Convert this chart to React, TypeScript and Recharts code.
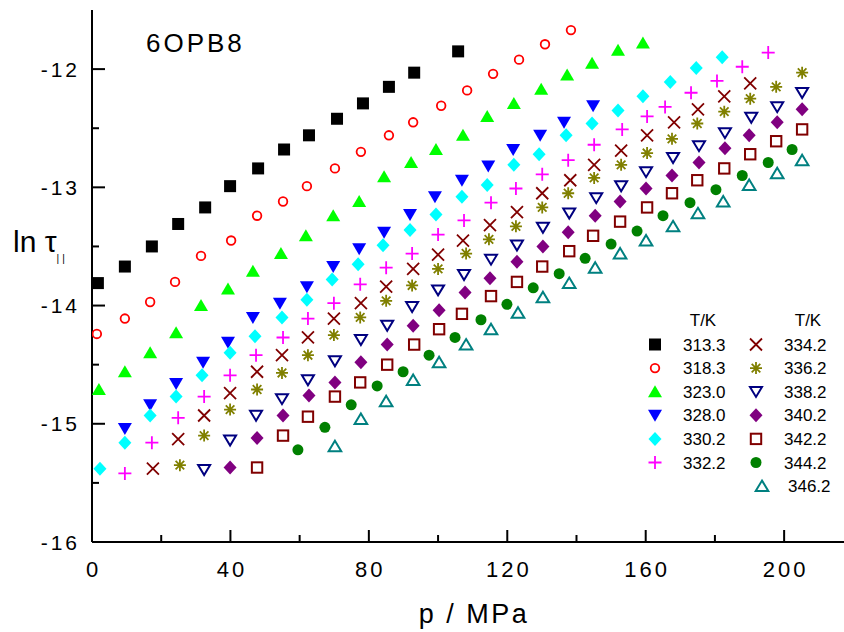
import React from 'react'
import { ScatterChart, Scatter, XAxis, YAxis } from 'recharts'

const FONT = '"Liberation Sans", Arial, Helvetica, sans-serif'

// [p / MPa, ln tau_parallel] for each temperature
const t313_3: [number, number][] = [
  [1.7, -13.81], [9.5, -13.67], [17.3, -13.5], [24.9, -13.31], [32.7, -13.17], [39.9, -12.99],
  [48.0, -12.84], [55.5, -12.68], [62.7, -12.56], [70.8, -12.42], [78.3, -12.29], [85.8, -12.15],
  [93.1, -12.03], [105.8, -11.85],
]
const t318_3: [number, number][] = [
  [1.4, -14.24], [9.5, -14.11], [16.8, -13.97], [24.0, -13.8], [31.5, -13.58], [40.2, -13.45],
  [47.7, -13.24], [55.2, -13.12], [62.1, -12.99], [70.2, -12.84], [77.7, -12.7], [85.8, -12.56],
  [92.8, -12.45], [100.9, -12.31], [108.4, -12.18], [115.9, -12.04], [123.4, -11.92], [130.9, -11.79],
  [138.4, -11.67],
]
const t323_0: [number, number][] = [
  [2.0, -14.71], [9.5, -14.56], [16.8, -14.4], [24.3, -14.23], [31.5, -14.0], [39.3, -13.86],
  [46.5, -13.71], [54.6, -13.56], [61.8, -13.41], [69.7, -13.24], [77.2, -13.12], [84.4, -12.91],
  [92.2, -12.79], [99.4, -12.68], [107.2, -12.56], [114.2, -12.4], [121.9, -12.29], [129.8, -12.17],
  [137.3, -12.05], [144.5, -11.95], [152.0, -11.84], [159.2, -11.78],
]
const t328_0: [number, number][] = [
  [9.5, -15.04], [16.8, -14.84], [24.3, -14.66], [32.1, -14.48], [39.3, -14.31], [46.5, -14.1],
  [54.3, -13.98], [62.1, -13.84], [69.7, -13.67], [77.2, -13.52], [84.4, -13.38], [91.9, -13.23],
  [99.1, -13.08], [106.9, -12.94], [114.5, -12.82], [121.7, -12.68], [129.5, -12.56], [136.4, -12.45],
  [144.8, -12.31],
]
const t330_2: [number, number][] = [
  [2.3, -15.38], [9.5, -15.16], [16.8, -14.93], [24.3, -14.77], [31.8, -14.59], [39.9, -14.4],
  [47.1, -14.26], [54.9, -14.1], [62.1, -13.95], [69.4, -13.78], [76.9, -13.65], [84.1, -13.49],
  [91.9, -13.36], [99.4, -13.23], [106.9, -13.08], [114.2, -12.98], [121.9, -12.81], [129.2, -12.72],
  [137.0, -12.56], [144.5, -12.46], [152.0, -12.35], [159.2, -12.23], [167.1, -12.11], [174.6, -11.99],
  [182.1, -11.9],
]
const t332_2: [number, number][] = [
  [9.5, -15.42], [17.3, -15.16], [24.9, -14.95], [32.4, -14.77], [39.9, -14.59], [47.4, -14.42],
  [55.2, -14.27], [62.4, -14.11], [69.9, -13.98], [77.5, -13.82], [85.0, -13.68], [92.5, -13.56],
  [100.0, -13.4], [107.5, -13.28], [115.3, -13.13], [122.5, -13.01], [130.1, -12.89], [137.6, -12.77],
  [145.1, -12.64], [153.2, -12.51], [160.4, -12.4], [165.6, -12.32], [173.1, -12.2], [180.6, -12.1],
  [187.9, -11.98], [195.4, -11.86],
]
const t334_2: [number, number][] = [
  [17.6, -15.38], [24.9, -15.13], [32.4, -14.93], [39.9, -14.74], [47.7, -14.56], [54.9, -14.42],
  [62.4, -14.27], [69.9, -14.11], [77.7, -13.98], [85.0, -13.84], [92.8, -13.69], [100.0, -13.57],
  [107.2, -13.45], [115.0, -13.32], [122.8, -13.21], [130.1, -13.05], [138.2, -12.94], [145.1, -12.81],
  [152.9, -12.69], [160.4, -12.56], [168.2, -12.45], [175.1, -12.34], [182.7, -12.23], [190.2, -12.12],
]
const t336_2: [number, number][] = [
  [25.4, -15.35], [32.4, -15.1], [39.9, -14.88], [47.7, -14.71], [54.9, -14.57], [62.4, -14.42],
  [69.9, -14.25], [77.5, -14.1], [85.0, -13.96], [92.5, -13.83], [100.0, -13.69], [108.1, -13.56],
  [114.7, -13.44], [122.5, -13.33], [130.1, -13.17], [137.6, -13.05], [145.1, -12.92], [152.9, -12.81],
  [160.4, -12.71], [167.6, -12.59], [174.9, -12.46], [182.7, -12.36], [190.2, -12.25], [197.7, -12.15],
  [205.2, -12.03],
]
const t338_2: [number, number][] = [
  [32.4, -15.39], [39.9, -15.14], [47.4, -14.93], [54.9, -14.79], [62.4, -14.63], [70.2, -14.47],
  [77.7, -14.29], [85.3, -14.17], [92.5, -14.01], [100.0, -13.87], [107.5, -13.74], [115.3, -13.61],
  [122.8, -13.49], [130.3, -13.34], [137.9, -13.22], [145.7, -13.09], [152.9, -12.99], [160.1, -12.87],
  [167.9, -12.75], [175.4, -12.65], [182.9, -12.54], [190.5, -12.41], [198.0, -12.32], [205.2, -12.2],
]
const t340_2: [number, number][] = [
  [39.9, -15.37], [47.7, -15.12], [55.2, -14.93], [62.7, -14.76], [70.2, -14.65], [77.7, -14.48],
  [85.3, -14.33], [92.8, -14.17], [100.3, -14.04], [107.8, -13.89], [115.0, -13.77], [122.8, -13.63],
  [130.3, -13.5], [137.6, -13.38], [145.4, -13.24], [152.6, -13.12], [160.1, -13.01], [167.6, -12.9],
  [175.4, -12.79], [182.9, -12.67], [189.9, -12.56], [198.0, -12.45], [205.2, -12.34],
]
const t342_2: [number, number][] = [
  [47.7, -15.37], [55.2, -15.1], [62.4, -14.94], [70.2, -14.77], [77.5, -14.65], [85.3, -14.5],
  [93.1, -14.33], [100.3, -14.2], [106.9, -14.07], [115.3, -13.92], [122.8, -13.8], [130.1, -13.67],
  [137.9, -13.54], [144.8, -13.41], [152.6, -13.29], [160.4, -13.17], [167.6, -13.05], [174.9, -12.94],
  [182.7, -12.84], [190.2, -12.72], [197.7, -12.61], [205.2, -12.51],
]
const t344_2: [number, number][] = [
  [59.5, -15.22], [67.3, -15.03], [74.9, -14.84], [82.4, -14.68], [89.9, -14.56], [97.4, -14.42],
  [104.9, -14.27], [112.4, -14.12], [119.9, -13.99], [127.5, -13.85], [135.0, -13.73], [142.5, -13.6],
  [150.0, -13.48], [157.5, -13.37], [165.0, -13.24], [172.8, -13.13], [180.3, -13.02], [187.9, -12.9],
  [195.4, -12.79], [202.3, -12.68],
]
const t346_2: [number, number][] = [
  [70.2, -15.19], [77.7, -14.96], [85.0, -14.81], [92.8, -14.63], [100.3, -14.48], [108.1, -14.33],
  [115.3, -14.2], [123.1, -14.06], [130.3, -13.93], [137.9, -13.81], [145.4, -13.68], [152.6, -13.56],
  [160.1, -13.45], [167.9, -13.33], [175.1, -13.22], [182.4, -13.12], [189.9, -12.98], [198.0, -12.88],
  [205.2, -12.77],
]

const temps = ['313.3', '318.3', '323.0', '328.0', '330.2', '332.2', '334.2', '336.2', '338.2', '340.2', '342.2', '344.2', '346.2']
const values = [t313_3, t318_3, t323_0, t328_0, t330_2, t332_2, t334_2, t336_2, t338_2, t340_2, t342_2, t344_2, t346_2]
const colors = ['#000000', '#ff0000', '#00ff00', '#0000ff', '#00ffff', '#ff00ff', '#800000', '#808000', '#000080', '#800080', '#800000', '#008000', '#008080']
const kinds = ['square', 'circle', 'triUp', 'triDown', 'diamond', 'plus', 'cross', 'star', 'triDownOpen', 'diamond', 'squareOpen', 'dot', 'triUpOpen']

const xTicks = [0, 20, 40, 60, 80, 100, 120, 140, 160, 180, 200]
const yTicks = [-16, -15.5, -15, -14.5, -14, -13.5, -13, -12.5, -12]

const series = temps.map((t, i) => ({
  name: t,
  color: colors[i],
  kind: kinds[i],
  data: values[i].map(([p, v]) => ({ p, v })),
}))

function Marker({ kind, color, cx, cy }: { kind: string; color: string; cx: number; cy: number }) {
  switch (kind) {
    case 'square':
      return <rect x={cx - 6} y={cy - 6} width={12} height={12} fill={color} />
    case 'circle':
      return <circle cx={cx} cy={cy} r={4.3} fill="none" stroke={color} strokeWidth={1.8} />
    case 'triUp':
      return <polygon points={`${cx},${cy - 6.5} ${cx + 7},${cy + 5.5} ${cx - 7},${cy + 5.5}`} fill={color} />
    case 'triDown':
      return <polygon points={`${cx - 7},${cy - 5.5} ${cx + 7},${cy - 5.5} ${cx},${cy + 6.5}`} fill={color} />
    case 'diamond':
      return <polygon points={`${cx},${cy - 7} ${cx + 6.5},${cy} ${cx},${cy + 7} ${cx - 6.5},${cy}`} fill={color} />
    case 'plus':
      return <path d={`M${cx - 6.5},${cy}H${cx + 6.5}M${cx},${cy - 6.5}V${cy + 6.5}`} stroke={color} strokeWidth={1.8} fill="none" />
    case 'cross':
      return <path d={`M${cx - 6},${cy - 6}L${cx + 6},${cy + 6}M${cx - 6},${cy + 6}L${cx + 6},${cy - 6}`} stroke={color} strokeWidth={1.8} fill="none" />
    case 'star':
      return (
        <path
          d={`M${cx - 6},${cy}H${cx + 6}M${cx},${cy - 6}V${cy + 6}M${cx - 4.3},${cy - 4.3}L${cx + 4.3},${cy + 4.3}M${cx - 4.3},${cy + 4.3}L${cx + 4.3},${cy - 4.3}`}
          stroke={color}
          strokeWidth={1.8}
          fill="none"
        />
      )
    case 'triDownOpen':
      return <polygon points={`${cx - 6},${cy - 4.8} ${cx + 6},${cy - 4.8} ${cx},${cy + 5.2}`} fill="none" stroke={color} strokeWidth={2} />
    case 'squareOpen':
      return <rect x={cx - 5.2} y={cy - 5.2} width={10.4} height={10.4} fill="none" stroke={color} strokeWidth={2} />
    case 'dot':
      return <ellipse cx={cx} cy={cy} rx={5.5} ry={5.5} fill={color} />
    case 'triUpOpen':
      return <polygon points={`${cx},${cy - 5.5} ${cx + 6.3},${cy + 5} ${cx - 6.3},${cy + 5}`} fill="none" stroke={color} strokeWidth={2} />
    default:
      return null
  }
}

function BottomTick(props: any) {
  const { x, y, payload } = props
  const major = payload.value % 40 === 0
  return (
    <g>
      <line x1={x} y1={y} x2={x} y2={y - (major ? 12 : 7)} stroke="#000" strokeWidth={2} />
      {major && (
        <text x={x + 1.5} y={y + 35} textAnchor="middle" fontSize={22} letterSpacing={3} fontFamily={FONT} fill="#000">
          {payload.value}
        </text>
      )}
    </g>
  )
}

function TopTick(props: any) {
  const { x, y } = props
  return <line x1={x} y1={y} x2={x} y2={y + 4} stroke="#000" strokeWidth={1.5} />
}

function LeftTick(props: any) {
  const { x, y, payload } = props
  const major = Number.isInteger(payload.value)
  return (
    <g>
      <line x1={x} y1={y} x2={x + (major ? 13 : 7)} y2={y} stroke="#000" strokeWidth={2} />
      {major && (
        <text x={x - 12} y={y + 7.5} textAnchor="end" fontSize={21} letterSpacing={3} fontFamily={FONT} fill="#000">
          {payload.value}
        </text>
      )}
    </g>
  )
}

const rowY = (i: number) => 344.5 + i * 23.6

export default function App() {
  const left = series.slice(0, 6)
  const right = series.slice(6)
  return (
    <div style={{ position: 'absolute', left: 0, top: 0, width: 844, height: 632, overflow: 'hidden', background: '#fff' }}>
      <ScatterChart width={844} height={632} margin={{ top: 10, right: 0, bottom: 0, left: 0 }}>
        <XAxis
          xAxisId="top"
          orientation="top"
          type="number"
          domain={[0, 217.3]}
          allowDataOverflow
          ticks={xTicks}
          interval={0}
          height={0}
          tickSize={0}
          tickMargin={0}
          tickLine={false}
          tick={TopTick}
          axisLine={{ stroke: '#000', strokeWidth: 2 }}
        />
        <XAxis
          dataKey="p"
          type="number"
          domain={[0, 217.3]}
          allowDataOverflow
          ticks={xTicks}
          interval={0}
          height={90}
          tickSize={0}
          tickMargin={0}
          tickLine={false}
          tick={BottomTick}
          axisLine={{ stroke: '#000', strokeWidth: 2 }}
        />
        <YAxis
          dataKey="v"
          type="number"
          domain={[-16, -11.5]}
          allowDataOverflow
          ticks={yTicks}
          interval={0}
          width={92}
          tickSize={0}
          tickMargin={0}
          tickLine={false}
          tick={LeftTick}
          axisLine={{ stroke: '#000', strokeWidth: 2 }}
        />
        {series.map((s) => (
          <Scatter
            key={s.name}
            name={s.name}
            data={s.data}
            isAnimationActive={false}
            shape={(props: any) => <Marker kind={s.kind} color={s.color} cx={props.cx} cy={props.cy} />}
          />
        ))}
      </ScatterChart>
      <svg width={844} height={632} style={{ position: 'absolute', left: 0, top: 0, pointerEvents: 'none' }} fontFamily={FONT}>
        <text x={146} y={52} fontSize={26} letterSpacing={3} fill="#000">6OPB8</text>
        <text x={474} y={623} textAnchor="middle" fontSize={27} letterSpacing={2.5} fill="#000">p / MPa</text>
        <text x={13} y={252} fontSize={30} fill="#000">
          ln τ<tspan fontSize={10} dy={10} letterSpacing={3}>||</tspan>
        </text>
        <text x={703} y={326} textAnchor="middle" fontSize={17} fill="#000">T/K</text>
        <text x={808} y={326} textAnchor="middle" fontSize={17} fill="#000">T/K</text>
        {left.map((s, i) => (
          <g key={s.name}>
            <Marker kind={s.kind} color={s.color} cx={655} cy={rowY(i)} />
            <text x={683} y={rowY(i) + 6} fontSize={17} fill="#000">{s.name}</text>
          </g>
        ))}
        {right.map((s, i) => {
          const last = i === right.length - 1
          return (
            <g key={s.name}>
              <Marker kind={s.kind} color={s.color} cx={last ? 762 : 756} cy={rowY(i)} />
              <text x={last ? 788 : 784} y={rowY(i) + 6} fontSize={17} fill="#000">{s.name}</text>
            </g>
          )
        })}
      </svg>
    </div>
  )
}
